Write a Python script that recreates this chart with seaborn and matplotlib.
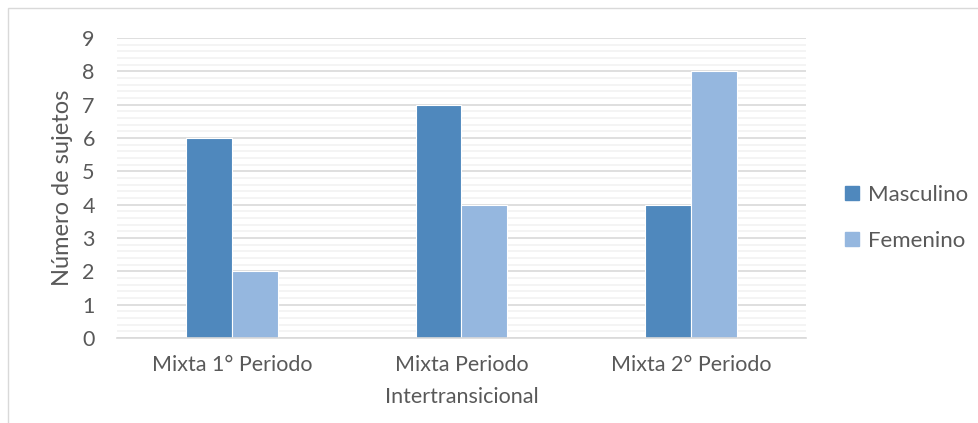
import matplotlib
import matplotlib.pyplot as plt
import matplotlib.patches as mpatches
from matplotlib.ticker import MultipleLocator
import pandas as pd
import seaborn as sns

sns.set_style('white')
plt.rcParams['font.family'] = ['Lato', 'DejaVu Sans']

# Data
categories = ['Mixta 1° Periodo', 'Mixta Periodo\nIntertransicional', 'Mixta 2° Periodo']
masculino = [6, 7, 4]
femenino = [2, 4, 8]
series = ['Masculino', 'Femenino']
colors = ['#4f88bd', '#95b7df']

TEXT_COLOR = '#595959'

df = pd.DataFrame({
    'categoria': categories * 2,
    'sexo': [series[0]] * 3 + [series[1]] * 3,
    'valor': masculino + femenino,
})

fig = plt.figure(figsize=(9.79, 4.23), dpi=100)
ax = fig.add_axes([117 / 979, 1 - 338 / 423, 689 / 979, 300 / 423])

sns.barplot(data=df, x='categoria', y='valor', hue='sexo', palette=colors,
            saturation=1, width=0.4, ax=ax, edgecolor='white', linewidth=0.8,
            legend=False)

ax.set_ylim(0, 9)
ax.set_xlim(-0.5, 2.5)
ax.yaxis.set_major_locator(MultipleLocator(1))
ax.yaxis.set_minor_locator(MultipleLocator(0.2))
ax.grid(which='major', axis='y', color='#d9d9d9', linewidth=1.2)
ax.grid(which='minor', axis='y', color='#f2f2f2', linewidth=1.2)
ax.set_axisbelow(True)
for s in ['top', 'right', 'left']:
    ax.spines[s].set_visible(False)
ax.spines['bottom'].set_color('#d9d9d9')
ax.spines['bottom'].set_linewidth(1.2)

ax.tick_params(axis='both', which='both', length=0, labelsize=15.5, labelcolor=TEXT_COLOR)
ax.tick_params(axis='y', pad=16)
ax.tick_params(axis='x', pad=12)
ax.set_xlabel('')
ax.set_ylabel('Número de sujetos', fontsize=17, color=TEXT_COLOR, labelpad=7)
for lbl in ax.get_xticklabels():
    lbl.set_linespacing(1.75)

handles = [mpatches.Patch(color=c, label=s) for c, s in zip(colors, series)]
leg = ax.legend(handles=handles, loc='center left', bbox_to_anchor=(1.028, 0.4),
                frameon=False, fontsize=16, labelcolor=TEXT_COLOR,
                handlelength=0.6, handleheight=0.6, handletextpad=0.4, labelspacing=1.15)

# chart border
fig.patches.append(mpatches.Rectangle((8 / 979, -0.01), 1.0, 1 - 8 / 423 + 0.01,
                                      transform=fig.transFigure, fill=False,
                                      edgecolor='#d9d9d9', linewidth=1))

plt.savefig('out.png', dpi=100)
